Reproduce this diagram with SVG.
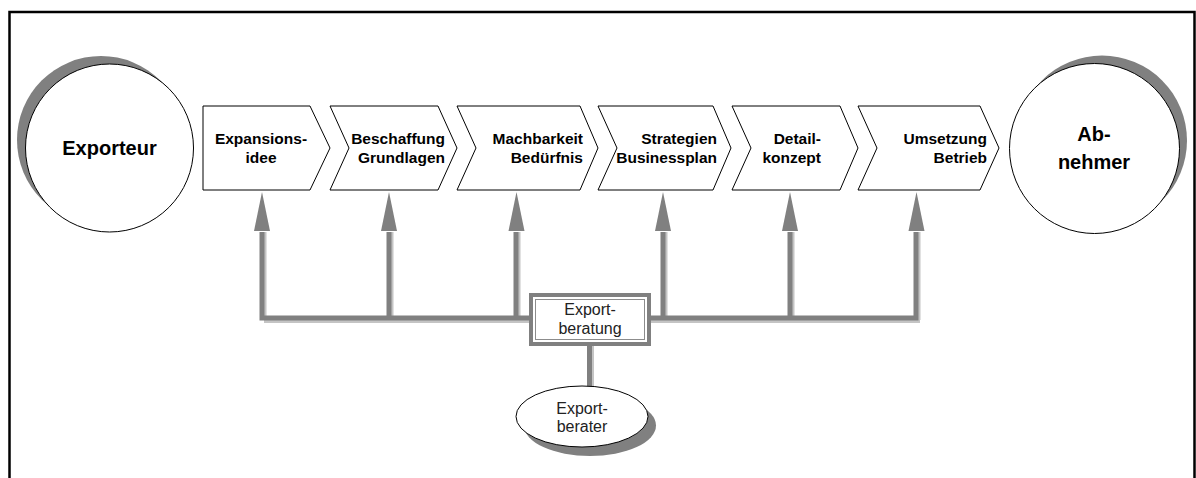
<svg xmlns="http://www.w3.org/2000/svg" width="1196" height="478" viewBox="0 0 1196 478">
<style>
.bold{font-family:"Liberation Sans",Arial,sans-serif;font-weight:bold;font-size:15.5px;fill:#000}
.big{font-family:"Liberation Sans",Arial,sans-serif;font-weight:bold;font-size:20px;fill:#000;text-anchor:middle}
.reg{font-family:"Liberation Sans",Arial,sans-serif;font-size:16px;fill:#222;text-anchor:middle}
.chev{fill:#fff;stroke:#000;stroke-width:1}
.shadow{fill:#808080}
.conn{fill:none;stroke:#808080;stroke-width:5}
.connhi{fill:none;stroke:#c4c4c4;stroke-width:5}
.head{fill:#808080}
</style>
<rect width="1196" height="478" fill="#fff"/>
<path d="M9.5,478 V12 H1194.5 V478" fill="none" stroke="#000" stroke-width="2.5"/>

<g id="connectors">
  <path class="connhi" d="M264,232 V320 M391,232 V320 M518,232 V320 M665,232 V320 M792,232 V320 M918,232 V320 M264,320.5 H531 M651,320.5 H920 M591.5,346 V388"/>
  <path class="conn" d="M262,232 V318 M389,232 V318 M516,232 V318 M663,232 V318 M790,232 V318 M916,232 V318 M259.5,318 H531 M651,318 H918.5 M589.5,346 V388"/>
  <polygon class="head" points="262,192 254,231 270,231"/>
  <polygon class="head" points="389,192 381,231 397,231"/>
  <polygon class="head" points="516.5,192 508.5,231 524.5,231"/>
  <polygon class="head" points="663,192 655,231 671,231"/>
  <polygon class="head" points="790,192 782,231 798,231"/>
  <polygon class="head" points="916.5,192 908.5,231 924.5,231"/>
</g>

<g id="exporteur">
  <circle class="shadow" cx="101" cy="140" r="84"/>
  <circle cx="109.5" cy="148" r="84" fill="#fff" stroke="#000" stroke-width="1"/>
  <text class="big" x="109.5" y="155">Exporteur</text>
</g>

<g id="abnehmer">
  <circle class="shadow" cx="1102" cy="140.5" r="85"/>
  <circle cx="1094.5" cy="148.5" r="85" fill="#fff" stroke="#000" stroke-width="1"/>
  <text class="big" x="1094" y="141">Ab-</text>
  <text class="big" x="1094" y="169">nehmer</text>
</g>

<g id="step1">
  <path class="chev" d="M203,106 H310 L330,148 L310,190 H203 Z"/>
  <text class="bold" x="261" y="144" text-anchor="middle">Expansions-</text>
  <text class="bold" x="261" y="163" text-anchor="middle">idee</text>
</g>
<g id="step2">
  <path class="chev" d="M330,106 H438 L457,148 L438,190 H330 L349,148 Z"/>
  <text class="bold" x="445" y="144" text-anchor="end">Beschaffung</text>
  <text class="bold" x="445" y="163" text-anchor="end">Grundlagen</text>
</g>
<g id="step3">
  <path class="chev" d="M457,106 H580 L598,148 L580,190 H457 L476,148 Z"/>
  <text class="bold" x="583" y="144" text-anchor="end">Machbarkeit</text>
  <text class="bold" x="583" y="163" text-anchor="end">Bedürfnis</text>
</g>
<g id="step4">
  <path class="chev" d="M598,106 H713 L731,148 L713,190 H598 L617,148 Z"/>
  <text class="bold" x="717" y="144" text-anchor="end">Strategien</text>
  <text class="bold" x="717" y="163" text-anchor="end">Businessplan</text>
</g>
<g id="step5">
  <path class="chev" d="M732,106 H840 L858,148 L840,190 H732 L751,148 Z"/>
  <text class="bold" x="821" y="144" text-anchor="end">Detail-</text>
  <text class="bold" x="821" y="163" text-anchor="end">konzept</text>
</g>
<g id="step6">
  <path class="chev" d="M858,106 H980 L999,148 L980,190 H858 L877,148 Z"/>
  <text class="bold" x="987" y="144" text-anchor="end">Umsetzung</text>
  <text class="bold" x="987" y="163" text-anchor="end">Betrieb</text>
</g>

<g id="exportberatung">
  <rect x="531" y="295" width="118" height="49" fill="#fff" stroke="#808080" stroke-width="4"/>
  <rect x="535.5" y="299.5" width="109" height="40" fill="none" stroke="#8c8c8c" stroke-width="1"/>
  <text class="reg" x="590" y="315">Export-</text>
  <text class="reg" x="590" y="334">beratung</text>
</g>

<g id="exportberater">
  <ellipse class="shadow" cx="590" cy="425.5" rx="66" ry="30.5"/>
  <ellipse cx="582" cy="416.5" rx="66" ry="30.5" fill="#fff" stroke="#000" stroke-width="1"/>
  <text class="reg" x="582" y="414">Export-</text>
  <text class="reg" x="582" y="432">berater</text>
</g>
</svg>
